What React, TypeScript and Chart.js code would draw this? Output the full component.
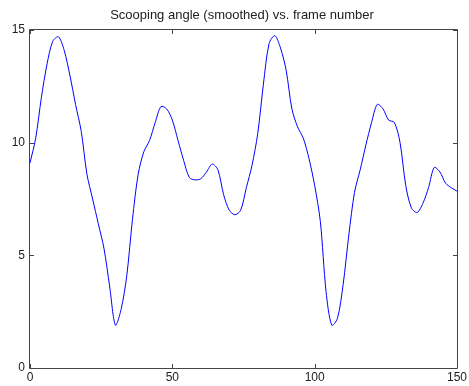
import React, { useEffect, useRef } from "react";
import { Chart, registerables } from "chart.js";

Chart.register(...registerables);

const chartTitle = "Scooping angle (smoothed) vs. frame number";

// frame numbers (every second frame) and smoothed scooping angle
const frames = [
  0, 2, 4, 6, 8, 10, 12, 14, 16, 18, 20, 22, 24, 26, 28, 30, 32, 34, 36, 38,
  40, 42, 44, 46, 48, 50, 52, 54, 56, 58, 60, 62, 64, 66, 68, 70, 72, 74, 76, 78,
  80, 82, 84, 86, 88, 90, 92, 94, 96, 98, 100, 102, 104, 106, 108, 110, 112, 114, 116, 118,
  120, 122, 124, 126, 128, 130, 132, 134, 136, 138, 140, 142, 144, 146, 148, 150,
];
const angles = [
  9.1, 10.2, 12.0, 13.5, 14.5, 14.7, 14.1, 13.0, 11.7, 10.5, 8.6, 7.5, 6.4, 5.3, 3.6, 1.9, 2.6, 4.1, 6.6, 8.6,
  9.6, 10.1, 10.9, 11.6, 11.5, 11.0, 10.1, 9.2, 8.45, 8.35, 8.4, 8.7, 9.05, 8.8, 7.7, 7.0, 6.8, 7.0, 8.0, 9.0,
  10.4, 12.6, 14.4, 14.75, 14.2, 13.2, 11.5, 10.7, 10.2, 9.3, 8.1, 6.5, 3.4, 1.9, 2.2, 3.7, 5.9, 7.8, 8.8, 9.9,
  10.9, 11.7, 11.5, 11.0, 10.9, 10.0, 8.1, 7.1, 6.9, 7.3, 8.0, 8.9, 8.7, 8.2, 8.0, 7.85,
];

const xTicks = [0, 50, 100, 150];
const yTicks = [0, 5, 10, 15];

const FONT = "'Liberation Sans', Arial, sans-serif";

// box frame with inward ticks on all four sides, plus the title
const framePlugin = {
  id: "frameTicks",
  afterDraw(chart: any) {
    const { ctx, chartArea } = chart;
    const { left, right, top, bottom } = chartArea;
    const xs = chart.scales.x;
    const ys = chart.scales.y;
    const len = 4;
    ctx.save();
    ctx.strokeStyle = "#444";
    ctx.lineWidth = 1;
    ctx.beginPath();
    ctx.rect(Math.round(left) - 0.5, Math.round(top) - 0.5, Math.round(right - left) + 1, Math.round(bottom - top) + 1);
    for (const v of xTicks) {
      const px = Math.round(xs.getPixelForValue(v)) + 0.5;
      ctx.moveTo(px, bottom);
      ctx.lineTo(px, bottom - len);
      ctx.moveTo(px, top);
      ctx.lineTo(px, top + len);
    }
    for (const v of yTicks) {
      const py = Math.round(ys.getPixelForValue(v)) + 0.5;
      ctx.moveTo(left, py);
      ctx.lineTo(left + len, py);
      ctx.moveTo(right, py);
      ctx.lineTo(right - len, py);
    }
    ctx.stroke();
    ctx.fillStyle = "#222";
    ctx.font = `13px ${FONT}`;
    ctx.textAlign = "center";
    ctx.textBaseline = "middle";
    ctx.fillText(chartTitle, 242, 15);
    ctx.restore();
  },
};

export default function App() {
  const ref = useRef<HTMLCanvasElement>(null);
  useEffect(() => {
    document.body.style.margin = "0";
    const chart = new Chart(ref.current!, {
      type: "line",
      data: {
        datasets: [
          {
            data: frames.map((f, i) => ({ x: f, y: angles[i] })),
            borderColor: "#0000ff",
            borderWidth: 1,
            pointRadius: 0,
            tension: 0.3,
            fill: false,
          },
        ],
      },
      options: {
        animation: false,
        responsive: false,
        layout: { padding: { top: 30, right: 10, left: 0, bottom: 0 } },
        plugins: { legend: { display: false }, tooltip: { enabled: false }, title: { display: false } },
        scales: {
          x: {
            type: "linear",
            min: 0,
            max: 150,
            afterFit: (s: any) => { s.height = 18; },
            afterBuildTicks: (s: any) => { s.ticks = xTicks.map((v) => ({ value: v })); },
            grid: { display: false, drawTicks: false },
            border: { display: false },
            ticks: { padding: 2, color: "#222", font: { family: FONT, size: 12 }, maxRotation: 0 },
          },
          y: {
            type: "linear",
            min: 0,
            max: 15,
            afterFit: (s: any) => { s.width = 30; },
            afterBuildTicks: (s: any) => { s.ticks = yTicks.map((v) => ({ value: v })); },
            grid: { display: false, drawTicks: false },
            border: { display: false },
            ticks: { padding: 5, color: "#222", font: { family: FONT, size: 12 } },
          },
        },
      },
      plugins: [framePlugin],
    });
    return () => chart.destroy();
  }, []);
  return (
    <div style={{ position: "absolute", left: 0, top: 0, width: 469, height: 386, background: "#fff" }}>
      <canvas ref={ref} width={469} height={386} />
    </div>
  );
}
